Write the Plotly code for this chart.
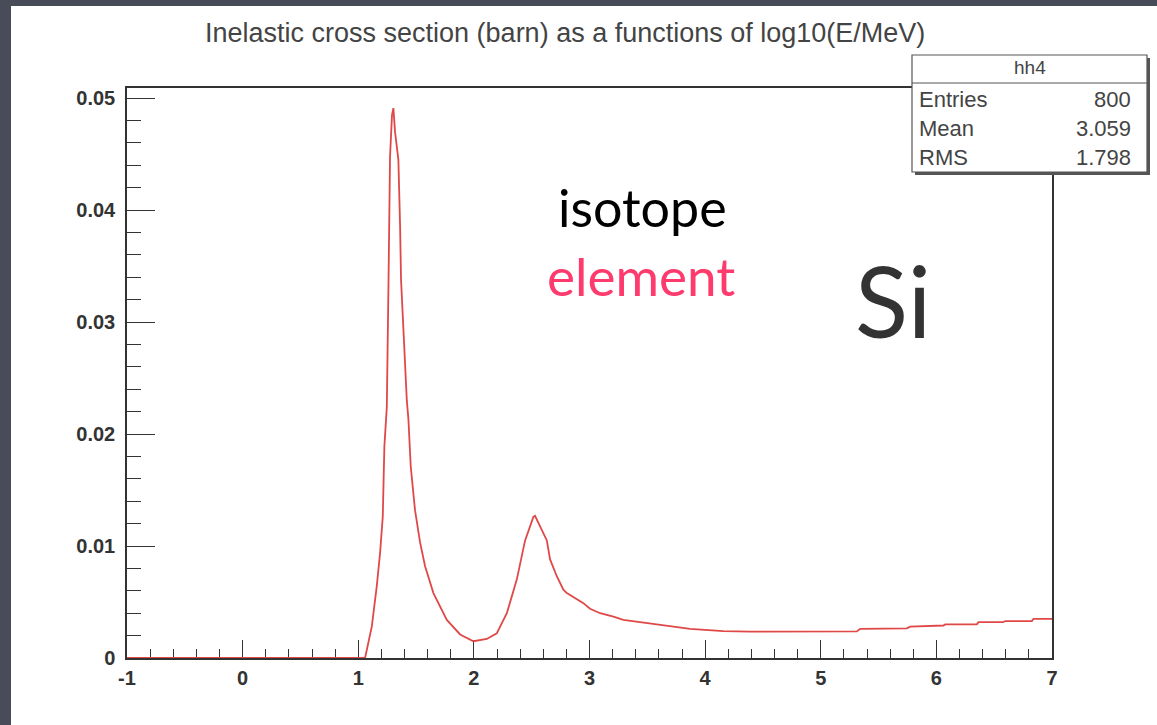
import plotly.graph_objects as go

# ---- data ----
log_energy = [-1.0, 0.0, 1.0, 1.059, 1.117, 1.160, 1.189, 1.212, 1.226, 1.247, 1.262, 1.269, 1.275,
              1.292, 1.304, 1.318, 1.347, 1.362, 1.370, 1.420, 1.434, 1.454, 1.491, 1.535, 1.578,
              1.650, 1.766, 1.881, 1.996, 2.112, 2.198, 2.285, 2.371, 2.443, 2.515, 2.529, 2.631,
              2.659, 2.717, 2.774, 2.804, 2.947, 3.005, 3.092, 3.207, 3.293, 3.496, 3.726, 3.870,
              4.158, 4.389, 5.312, 5.341, 5.745, 5.773, 6.061, 6.076, 6.350, 6.364, 6.578, 6.595,
              6.826, 6.840, 7.0]
cross_section = [0.0, 0.0, 0.0, 0.0, 0.0028, 0.0064, 0.0094, 0.0126, 0.0189, 0.0224, 0.0338, 0.0412, 0.0448,
                 0.0485, 0.0491, 0.0470, 0.0445, 0.0385, 0.0338, 0.0230, 0.0213, 0.0171, 0.0132, 0.0103, 0.0082,
                 0.0058, 0.0034, 0.0021, 0.0015, 0.0017, 0.0022, 0.0040, 0.0070, 0.0105, 0.0126, 0.0127, 0.0105,
                 0.0088, 0.0073, 0.0061, 0.0058, 0.0049, 0.0044, 0.0040, 0.0037, 0.0034, 0.0031, 0.0028, 0.0026,
                 0.0024, 0.00235, 0.00237, 0.0026, 0.00265, 0.0028, 0.0029, 0.0030, 0.0030, 0.0032, 0.0032, 0.0033,
                 0.0033, 0.0035, 0.0035]

x_tick_vals = [-1, 0, 1, 2, 3, 4, 5, 6, 7]
x_tick_text = ["-1", "0", "1", "2", "3", "4", "5", "6", "7"]
y_tick_vals = [0, 0.01, 0.02, 0.03, 0.04, 0.05]
y_tick_text = ["0", "0.01", "0.02", "0.03", "0.04", "0.05"]

stats_title = "hh4"
stats_names = ["Entries", "Mean", "RMS"]
stats_values = ["800", "3.059", "1.798"]

title_text = "Inelastic cross section (barn) as a functions of log10(E/MeV)"

# ---- geometry (pixels) ----
W, H = 1157, 725
L, R, T, B = 127, 1052, 88, 658
pw, ph = R - L, B - T


def px(xp):
    return (xp - L) / pw


def py(yp):
    return (B - yp) / ph


fig = go.Figure()
fig.add_trace(go.Scatter(
    x=log_energy, y=cross_section, mode="lines",
    line=dict(color="#e04848", width=1.8), cliponaxis=False, showlegend=False,
    hoverinfo="skip"))

axis_font = dict(family="Liberation Sans, Arial, sans-serif", size=20, color="#333333", weight="bold")

fig.update_xaxes(
    range=[-1, 7], tickvals=x_tick_vals, ticktext=x_tick_text, ticks="inside", ticklen=18, tickwidth=1.2,
    tickcolor="#333333", showline=True, linecolor="#333333", linewidth=1.5, mirror=True,
    showgrid=False, zeroline=False, tickfont=axis_font, layer="below traces",
    ticklabelstandoff=1,
    minor=dict(dtick=0.2, tick0=-1, ticks="inside", ticklen=9, tickwidth=1.2, tickcolor="#333333", showgrid=False),
)
fig.update_yaxes(
    range=[0, 0.0509], tickvals=y_tick_vals, ticktext=y_tick_text, ticks="inside", ticklen=28,
    tickwidth=1.2, tickcolor="#333333", showline=True, linecolor="#333333", linewidth=1.5,
    mirror=True, showgrid=False, zeroline=False, tickfont=axis_font, layer="below traces",
    ticklabelstandoff=6,
    minor=dict(dtick=0.002, tick0=0, ticks="inside", ticklen=14, tickwidth=1.2, tickcolor="#333333", showgrid=False),
)

stats_font = dict(family="Liberation Sans, Arial, sans-serif", size=22, color="#444444")

shapes = [
    # white page
    dict(type="rect", xref="paper", yref="paper", x0=px(11), x1=px(1165), y0=py(735), y1=py(6),
         fillcolor="white", line=dict(width=0), layer="below"),
    # stats box shadow
    dict(type="rect", xref="paper", yref="paper", x0=px(915), x1=px(1150), y0=py(175), y1=py(58),
         fillcolor="#555555", line=dict(width=0), layer="above"),
    # stats box
    dict(type="rect", xref="paper", yref="paper", x0=px(912), x1=px(1147), y0=py(172), y1=py(55),
         fillcolor="white", line=dict(color="#555555", width=1.2), layer="above"),
    dict(type="line", xref="paper", yref="paper", x0=px(912), x1=px(1147), y0=py(83), y1=py(83),
         line=dict(color="#555555", width=1.2), layer="above"),
]

annotations = [
    dict(text=title_text, x=px(565), y=py(33), xref="paper", yref="paper", showarrow=False,
         xanchor="center", yanchor="middle",
         font=dict(family="Liberation Sans, Arial, sans-serif", size=27, color="#444444")),
    dict(text=stats_title, x=px(1029.5), y=py(68), xref="paper", yref="paper", showarrow=False,
         xanchor="center", yanchor="middle",
         font=dict(family="Liberation Sans, Arial, sans-serif", size=19, color="#444444")),
    dict(text="isotope", x=px(642), y=py(207), xref="paper", yref="paper", showarrow=False,
         xanchor="center", yanchor="middle",
         font=dict(family="Lato, sans-serif", size=52, color="#000000")),
    dict(text="element", x=px(641), y=py(275), xref="paper", yref="paper", showarrow=False,
         xanchor="center", yanchor="middle",
         font=dict(family="Lato, sans-serif", size=53, color="#ff3a6c")),
    dict(text="Si", x=px(893), y=py(300), xref="paper", yref="paper", showarrow=False,
         xanchor="center", yanchor="middle",
         font=dict(family="Lato, sans-serif", size=98, color="#333333")),
]
row_y = [100, 128, 157]
for name, val, yy in zip(stats_names, stats_values, row_y):
    annotations.append(dict(text=name, x=px(917), y=py(yy), xref="paper", yref="paper", showarrow=False,
                            xanchor="left", yanchor="middle", font=stats_font))
    annotations.append(dict(text=val, x=px(1133), y=py(yy), xref="paper", yref="paper", showarrow=False,
                            xanchor="right", yanchor="middle", font=stats_font))

fig.update_layout(
    width=W, height=H,
    margin=dict(l=L, r=W - R, t=T, b=H - B, pad=0),
    paper_bgcolor="#474c58", plot_bgcolor="white",
    shapes=shapes, annotations=annotations, showlegend=False,
)

fig.write_html("out.html", config={"displayModeBar": False},
               post_script="document.body.style.margin='0';document.body.style.overflow='hidden';")
